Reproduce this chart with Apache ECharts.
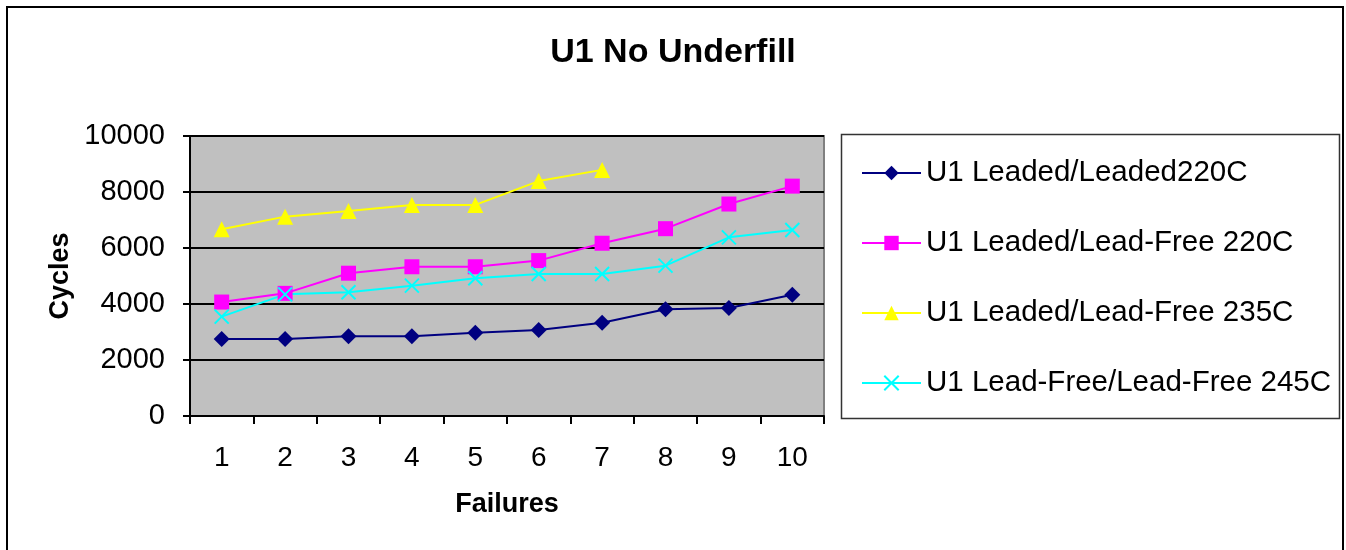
<!DOCTYPE html>
<html><head><meta charset="utf-8">
<script src="https://cdn.jsdelivr.net/npm/echarts@6/dist/echarts.min.js"></script>
<style>html,body{margin:0;padding:0;background:#fff}#c{width:1346px;height:550px}</style>
</head><body><div id="c"></div>
<script>
const categories = ['1','2','3','4','5','6','7','8','9','10'];
const leadedLeaded220 = [2750, 2750, 2850, 2850, 2975, 3070, 3330, 3810, 3860, 4330];
const leadedLeadFree220 = [4070, 4380, 5100, 5330, 5330, 5550, 6170, 6690, 7570, 8210];
const leadedLeadFree235 = [6670, 7120, 7320, 7540, 7540, 8390, 8790];
const leadFreeLeadFree245 = [3550, 4345, 4420, 4655, 4920, 5070, 5070, 5370, 6380, 6640];
const seriesNames = ['U1 Leaded/Leaded220C','U1 Leaded/Lead-Free 220C','U1 Leaded/Lead-Free 235C','U1 Lead-Free/Lead-Free 245C'];

const FONT = '"Liberation Sans", Arial, sans-serif';
const chart = echarts.init(document.getElementById('c'), null, {renderer:'canvas'});
const xPath = 'path://M0,0L10,10M10,0L0,10';
chart.setOption({
  animation:false,
  backgroundColor:'#fff',
  title:{text:'U1 No Underfill', left:'center', top:31, textStyle:{fontFamily:FONT, fontSize:34, fontWeight:'bold', color:'#000'}},
  graphic:[
    {type:'rect', shape:{x:7,y:7,width:1336,height:560}, style:{fill:'none', stroke:'#000', lineWidth:2}, z:-1},
    {type:'rect', shape:{x:841.5,y:134.5,width:498,height:284}, style:{fill:'#fff', stroke:'#333', lineWidth:1.5}, z:-1}
  ],
  legend:{
    orient:'vertical', left:861, top:158, itemWidth:59, itemHeight:18, itemGap:40,
    padding:0,
    textStyle:{fontFamily:FONT, fontSize:29.5, color:'#000'},
    data:seriesNames
  },
  grid:{left:190, top:136, right:522, bottom:134, show:true, backgroundColor:'#c0c0c0', borderColor:'#808080', borderWidth:2},
  xAxis:{
    type:'category', data:categories, boundaryGap:true,
    name:'Failures', nameLocation:'middle', nameGap:75,
    nameTextStyle:{fontFamily:FONT, fontSize:27, fontWeight:'bold', color:'#000'},
    axisLine:{lineStyle:{color:'#000', width:2}},
    axisTick:{show:true, length:8, lineStyle:{color:'#000', width:2}, alignWithLabel:false},
    axisLabel:{fontFamily:FONT, fontSize:28, color:'#000', margin:28}
  },
  yAxis:{
    type:'value', min:0, max:10000, interval:2000,
    name:'Cycles', nameLocation:'middle', nameGap:116,
    nameTextStyle:{fontFamily:FONT, fontSize:27, fontWeight:'bold', color:'#000'},
    axisLine:{show:true, lineStyle:{color:'#000', width:2}},
    axisTick:{show:true, length:7, lineStyle:{color:'#000', width:2}},
    axisLabel:{fontFamily:FONT, fontSize:29, color:'#000', margin:25, formatter:function(v){return String(v);}},
    splitLine:{lineStyle:{color:'#000', width:2}}
  },
  series:[
    {name:seriesNames[0], type:'line', data:leadedLeaded220, symbol:'diamond', symbolSize:16,
      lineStyle:{color:'#000080', width:2}, itemStyle:{color:'#000080'}},
    {name:seriesNames[1], type:'line', data:leadedLeadFree220, symbol:'rect', symbolSize:15,
      lineStyle:{color:'#ff00ff', width:2}, itemStyle:{color:'#ff00ff'}},
    {name:seriesNames[2], type:'line', data:leadedLeadFree235, symbol:'triangle', symbolSize:16,
      lineStyle:{color:'#ffff00', width:2}, itemStyle:{color:'#ffff00'}},
    {name:seriesNames[3], type:'line', data:leadFreeLeadFree245, symbol:xPath, symbolSize:14,
      lineStyle:{color:'#00ffff', width:2}, itemStyle:{color:'none', borderColor:'#00ffff', borderWidth:2}}
  ]
});
</script></body></html>
